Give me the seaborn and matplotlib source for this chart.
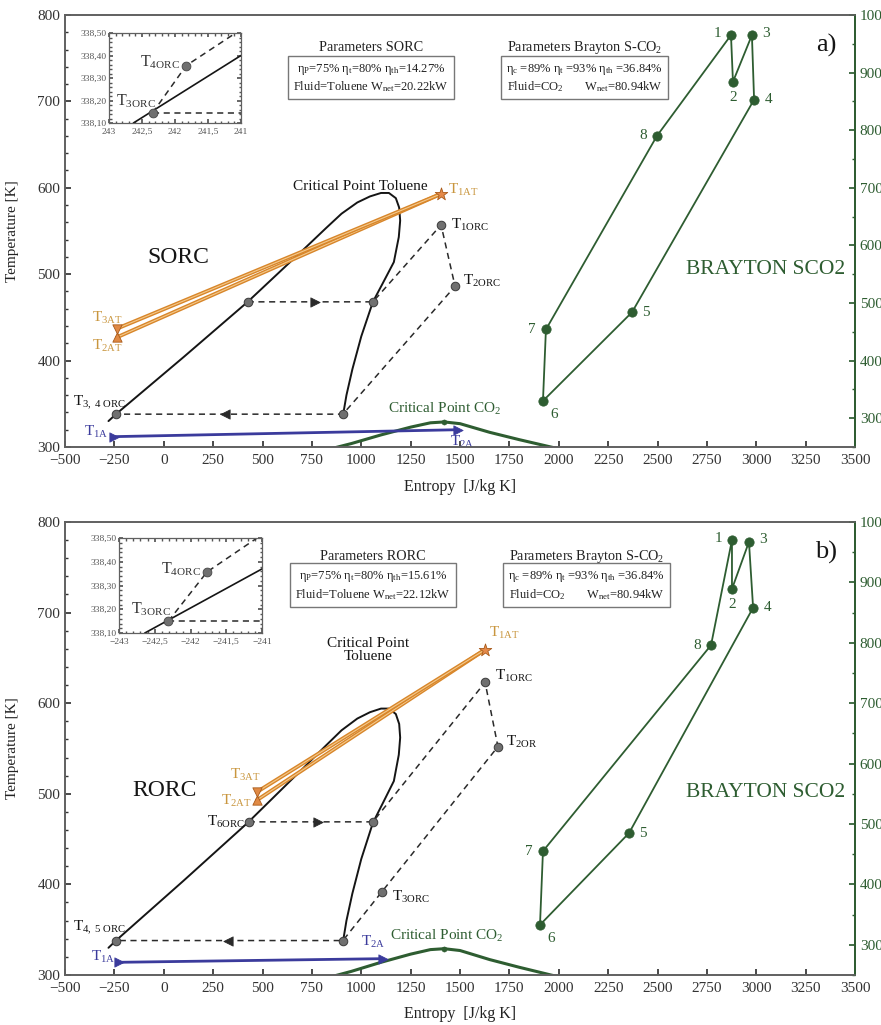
import matplotlib
matplotlib.use("Agg")
import matplotlib.pyplot as plt
from matplotlib.ticker import MultipleLocator
import seaborn as sns

# ---------------- data ----------------
x_ticks = [-500, -250, 0, 250, 500, 750, 1000, 1250, 1500, 1750, 2000,
           2250, 2500, 2750, 3000, 3250, 3500]
left_ticks = [300, 400, 500, 600, 700, 800]
right_ticks = [300, 400, 500, 600, 700, 800, 900, 1000]

# toluene saturation dome (entropy J/kg K, temperature K)
dome_s = [-280, -242, 100, 425, 705, 820, 900, 980, 1044, 1100, 1140, 1175,
          1192, 1197, 1190, 1165, 1110, 1059, 1000, 955, 925, 907]
dome_t = [330, 338, 404, 468, 528, 553, 570, 583, 590, 594, 594, 588,
          577, 562, 543, 514, 490, 468, 428, 390, 360, 336]

# CO2 saturation dome
co2_s = [830, 950, 1100, 1250, 1350, 1420, 1500, 1650, 1800, 1960, 2000]
co2_t = [297, 304, 314, 323, 328, 329, 327, 317, 308.5, 300, 298]
co2_crit_s = [1420]
co2_crit_t = [329]

# panel a) SORC
sorc_path_s = [425, 1059, 1404, 1475, 907, -242]
sorc_path_t = [468, 468, 557, 486, 338, 338]
sorc_pts_s = [-242, 425, 1059, 1404, 1475, 907]
sorc_pts_t = [338, 468, 468, 557, 486, 338]
sorc_arrow_s = [766, 310]
sorc_arrow_t = [468, 338]
sorc_hot_s = [1404, -237, -237]     # T1AT, T2AT, T3AT
sorc_hot_t = [593, 427, 437]
sorc_air_s = [-250, 1490]           # T1A, T2A
sorc_air_t = [312, 320]

# panel b) RORC
rorc_path_s = [430, 1059, 1627, 1692, 1105, 907, -242]
rorc_path_t = [469, 469, 623, 552, 392, 338, 338]
rorc_pts_s = [-242, 430, 1059, 1627, 1692, 1105, 907]
rorc_pts_t = [338, 469, 469, 623, 552, 392, 338]
rorc_arrow_s = [781, 325]
rorc_arrow_t = [469, 338]
rorc_hot_s = [1627, 472, 472]
rorc_hot_t = [659, 493, 502]
rorc_air_s = [-225, 1110]
rorc_air_t = [314, 318]

# Brayton S-CO2 states 1..8 (right axis)
bray_labels = ["1", "2", "3", "4", "5", "6", "7", "8"]
bray_a_s = [2872, 2882, 2978, 2989, 2371, 1920, 1935, 2497]
bray_a_t = [965, 884, 965, 853, 484, 330, 454, 790]
bray_b_s = [2877, 2877, 2963, 2984, 2356, 1905, 1920, 2771]
bray_b_t = [970, 889, 967, 858, 485, 333, 455, 796]

# insets (zoom around T3ORC / T4ORC)
ins_a_xticks = [243, 242.5, 242, 241.5, 241]
ins_a_xlabels = ["243", "242,5", "242", "241,5", "241"]
ins_a_solid_x = [242.63, 241.0]
ins_a_solid_y = [338.10, 338.40]
ins_a_dash_x = [242.34, 241.83, 241.08]
ins_a_dash_y = [338.145, 338.355, 338.50]
ins_a_h_x = [242.34, 241.0]
ins_a_h_y = [338.145, 338.145]

ins_b_xticks = [-243, -242.5, -242, -241.5, -241]
ins_b_xlabels = ["\u2212243", "\u2212242,5", "\u2212242", "\u2212241,5", "\u2212241"]
ins_b_solid_x = [-242.64, -241.0]
ins_b_solid_y = [338.10, 338.37]
ins_b_dash_x = [-242.31, -241.77, -241.07]
ins_b_dash_y = [338.15, 338.357, 338.50]
ins_b_h_x = [-242.31, -241.0]
ins_b_h_y = [338.15, 338.15]

ins_yticks = [338.10, 338.20, 338.30, 338.40, 338.50]
ins_ylabels = ["338,10", "338,20", "338,30", "338,40", "338,50"]

# ---------------- style ----------------
sns.set_theme(style="ticks")
plt.rcParams["font.family"] = ["Liberation Serif", "DejaVu Serif"]
plt.rcParams["mathtext.fontset"] = "custom"
plt.rcParams["mathtext.rm"] = "Liberation Serif"
plt.rcParams["mathtext.it"] = "Liberation Serif:italic"
plt.rcParams["mathtext.bf"] = "Liberation Serif:bold"

BLACK = "#151515"
DASH = "#2a2a2a"
ORANGE = "#d8862a"
ORANGE_IN = "#f4c98c"
GOLD = "#c9963e"
BLUE = "#3b3b9c"
GREEN = "#2e5d31"
GRAY = "#707070"
FRAME = "#606060"


def path(ax, xs, ys, **kw):
    sns.lineplot(x=xs, y=ys, sort=False, estimator=None, ax=ax, **kw)


def dots(ax, xs, ys, **kw):
    sns.scatterplot(x=xs, y=ys, ax=ax, legend=False, **kw)


def tag(ax, text, xy, off, ha="left", va="center", color=BLACK, size=11):
    ax.annotate(text, xy=xy, xytext=off, textcoords="offset pixels",
                ha=ha, va=va, color=color, fontsize=size)


def T(sub):
    return r"T$_{\mathrm{" + sub + "}}$"


def frame(ax):
    ax.set_xlim(-500, 3500)
    ax.set_ylim(300, 800)
    ax.set_xticks(x_ticks)
    ax.set_yticks(left_ticks)
    ax.yaxis.set_minor_locator(MultipleLocator(20))
    ax.tick_params(axis="both", which="both", direction="in", labelsize=11,
                   colors="#333333", length=4)
    ax.tick_params(axis="y", which="minor", length=2.5)
    ax.tick_params(axis="x", pad=5)
    for sp in ax.spines.values():
        sp.set_color(FRAME)
        sp.set_linewidth(1.2)
    ax.set_ylabel("Temperature [K]", fontsize=11, color="#222222")
    ax.yaxis.set_label_coords(-0.058, 0.5)


def right_axis(ax):
    ax2 = ax.twinx()
    ax2.set_ylim(250, 1000)
    ax2.set_yticks(right_ticks)
    ax2.yaxis.set_minor_locator(MultipleLocator(50))
    ax2.tick_params(axis="y", which="both", direction="in", labelsize=11,
                    colors=GREEN, length=4)
    ax2.tick_params(axis="y", which="minor", length=2.5)
    for name, sp in ax2.spines.items():
        sp.set_color(FRAME)
        sp.set_linewidth(1.2)
    ax2.spines["right"].set_color(GREEN)
    ax2.spines["right"].set_linewidth(1.4)
    return ax2


def brayton(ax2, xs, ys, offs):
    cyc_s = xs + [xs[0]]
    cyc_t = ys + [ys[0]]
    path(ax2, cyc_s, cyc_t, color=GREEN, lw=1.3)
    dots(ax2, xs, ys, color=GREEN, s=45, edgecolor=GREEN, zorder=5)
    for lab, px, py, (o, ha) in zip(bray_labels, xs, ys, offs):
        tag(ax2, lab, (px, py), o, ha=ha, color=GREEN, size=11)


def hot_air(ax, hs, ht):
    for k in (1, 2):
        path(ax, [hs[0], hs[k]], [ht[0], ht[k]], color=ORANGE, lw=2.8)
        path(ax, [hs[0], hs[k]], [ht[0], ht[k]], color=ORANGE_IN, lw=0.8)
    dots(ax, [hs[0]], [ht[0]], marker="*", s=90, color="#e58a4a",
         edgecolor="#a85a1a", linewidth=0.6, zorder=6)
    dots(ax, [hs[1]], [ht[1]], marker="^", s=45, color="#e08a45",
         edgecolor="#a85a1a", linewidth=0.6, zorder=6)
    dots(ax, [hs[2]], [ht[2]], marker="v", s=45, color="#e08a45",
         edgecolor="#a85a1a", linewidth=0.6, zorder=6)


def cold_air(ax, cs, ct):
    path(ax, cs, ct, color=BLUE, lw=2.0)
    dots(ax, cs, ct, marker=">", s=45, color=BLUE, edgecolor=BLUE, zorder=6)


def orc(ax, ps, pt, qs, qt, arr_s, arr_t):
    path(ax, ps, pt, color=DASH, lw=1.1, linestyle=(0, (4, 3)))
    dots(ax, qs, qt, s=38, color=GRAY, edgecolor="#3a3a3a", linewidth=0.7,
         zorder=6)
    dots(ax, [arr_s[0]], [arr_t[0]], marker=">", s=45, color=DASH,
         edgecolor=DASH, zorder=6)
    dots(ax, [arr_s[1]], [arr_t[1]], marker="<", s=45, color=DASH,
         edgecolor=DASH, zorder=6)


def domes(ax):
    path(ax, dome_s, dome_t, color=BLACK, lw=1.4)
    path(ax, co2_s, co2_t, color=GREEN, lw=2.2)
    dots(ax, co2_crit_s, co2_crit_t, s=14, color=GREEN, edgecolor=GREEN,
         zorder=6)


def params(ax, title, x1, line1, x2, line2, y_title, y_box):
    ax.text(x1, y_title, title, ha="center", va="center", fontsize=10.3,
            color="#222222")
    ax.text(x1, y_box, line1, ha="center", va="center", fontsize=9,
            color="#222222", linespacing=1.25,
            bbox=dict(boxstyle="square,pad=0.4", fc="white", ec="#777777",
                      lw=1.0))
    ax.text(x2, y_title, "Parameters Brayton S-CO$_2$", ha="center",
            va="center", fontsize=10.3, color="#222222")
    ax.text(x2, y_box, line2, ha="center", va="center", fontsize=9,
            color="#222222", linespacing=1.25,
            bbox=dict(boxstyle="square,pad=0.4", fc="white", ec="#777777",
                      lw=1.0))


def inset(fig, rect, xt, xl, sx, sy, dx, dy, hx, hy, invert, lab_offs):
    ia = fig.add_axes(rect)
    path(ia, sx, sy, color=BLACK, lw=1.2)
    path(ia, dx, dy, color=DASH, lw=1.1, linestyle=(0, (4, 3)))
    path(ia, hx, hy, color=DASH, lw=1.1, linestyle=(0, (4, 3)))
    dots(ia, [dx[0], dx[1]], [dy[0], dy[1]], s=40, color=GRAY,
         edgecolor="#444444", linewidth=0.6, zorder=6)
    if invert:
        ia.set_xlim(243, 241)
    else:
        ia.set_xlim(-243, -241)
    ia.set_ylim(338.10, 338.50)
    ia.set_xticks(xt)
    ia.set_xticklabels(xl)
    ia.set_yticks(ins_yticks)
    ia.set_yticklabels(ins_ylabels)
    ia.xaxis.set_minor_locator(MultipleLocator(0.1))
    ia.yaxis.set_minor_locator(MultipleLocator(0.02))
    ia.tick_params(axis="both", which="both", direction="in", labelsize=6.8,
                   colors="#555555", length=3, pad=2, top=True, right=True)
    ia.tick_params(axis="x", pad=3.5)
    ia.tick_params(which="minor", length=1.8)
    for sp in ia.spines.values():
        sp.set_color(FRAME)
        sp.set_linewidth(0.9)
    ia.set_xlabel("")
    ia.set_ylabel("")
    tag(ia, T("4ORC"), (dx[1], dy[1]), lab_offs[0], ha="right", size=11.5,
        color="#333333")
    tag(ia, T("3ORC"), (dx[0], dy[0]), lab_offs[1], ha="right", size=11.5,
        color="#333333")
    return ia


fig = plt.figure(figsize=(8.81, 10.25), dpi=100)

# ================= panel a) =================
ax = fig.add_axes([0.0738, 0.5639, 0.8967, 0.4215])
domes(ax)
hot_air(ax, sorc_hot_s, sorc_hot_t)
cold_air(ax, sorc_air_s, sorc_air_t)
orc(ax, sorc_path_s, sorc_path_t, sorc_pts_s, sorc_pts_t,
    sorc_arrow_s, sorc_arrow_t)
frame(ax)

tag(ax, T("1AT"), (sorc_hot_s[0], sorc_hot_t[0]), (7, 4), color=GOLD)
tag(ax, T("3AT"), (sorc_hot_s[2], sorc_hot_t[2]), (-10, 11), ha="center", color=GOLD)
tag(ax, T("2AT"), (sorc_hot_s[1], sorc_hot_t[1]), (-10, -9), ha="center", color=GOLD)
tag(ax, T("1ORC"), (sorc_pts_s[3], sorc_pts_t[3]), (10, 0))
tag(ax, T("2ORC"), (sorc_pts_s[4], sorc_pts_t[4]), (8, 5))
tag(ax, T(r"3,\ 4\ ORC"), (sorc_pts_s[0], sorc_pts_t[0]), (-43, 11))
tag(ax, T("1A"), (sorc_air_s[0], sorc_air_t[0]), (-6, 5), ha="right", color=BLUE)
tag(ax, T("2A"), (sorc_air_s[1], sorc_air_t[1]), (4, -12), ha="center", color=BLUE)
ax.text(994, 601, "Critical Point Toluene", ha="center", va="center",
        fontsize=11, color=BLACK)
ax.text(1424, 344, "Critical Point CO$_2$", ha="center", va="center",
        fontsize=11, color=GREEN)
ax.text(72, 519, "SORC", ha="center", va="center", fontsize=17, color=BLACK)
ax.text(3045, 505, "BRAYTON SCO2", ha="center", va="center", fontsize=15.5,
        color=GREEN)
ax.text(3353, 765, "a)", ha="center", va="center", fontsize=19, color=BLACK)
params(ax, "Parameters SORC", 1050,
       "\u03b7$_{\\mathrm{P}}$=75% \u03b7$_{\\mathrm{t}}$=80% \u03b7$_{\\mathrm{th}}$=14.27%\n"
       "Fluid=Toluene W$_{\\mathrm{net}}$=20.22kW",
       2130,
       "\u03b7$_{\\mathrm{c}}$ =89% \u03b7$_{\\mathrm{t}}$ =93% \u03b7$_{\\mathrm{th}}$ =36.84%\n"
       "Fluid=CO$_2$       W$_{\\mathrm{net}}$=80.94kW",
       762, 727)

ax2 = right_axis(ax)
brayton(ax2, bray_a_s, bray_a_t,
        [((-10, 2), "right"), ((0, -16), "center"), ((10, 2), "left"),
         ((11, 0), "left"), ((10, 0), "left"), ((7, -14), "left"),
         ((-10, 0), "right"), ((-10, 0), "right")])
ax2.set_xlim(-500, 3500)
ax2.set_ylabel("")
ax.set_xlabel("Entropy  [J/kg K]", fontsize=11.5, color="#222222", labelpad=9)

inset(fig, [0.1237, 0.880, 0.1498, 0.0878], ins_a_xticks, ins_a_xlabels,
      ins_a_solid_x, ins_a_solid_y, ins_a_dash_x, ins_a_dash_y,
      ins_a_h_x, ins_a_h_y, True, [(-6, 3), (3, 12)])

# ================= panel b) =================
bx = fig.add_axes([0.0738, 0.0488, 0.8967, 0.4420])
domes(bx)
hot_air(bx, rorc_hot_s, rorc_hot_t)
cold_air(bx, rorc_air_s, rorc_air_t)
orc(bx, rorc_path_s, rorc_path_t, rorc_pts_s, rorc_pts_t,
    rorc_arrow_s, rorc_arrow_t)
frame(bx)

tag(bx, T("1AT"), (rorc_hot_s[0], rorc_hot_t[0]), (4, 17), color=GOLD)
tag(bx, T("3AT"), (rorc_hot_s[2], rorc_hot_t[2]), (-12, 17), ha="center", color=GOLD)
tag(bx, T("2AT"), (rorc_hot_s[1], rorc_hot_t[1]), (-5, -1), ha="right", color=GOLD)
tag(bx, T("1ORC"), (rorc_pts_s[3], rorc_pts_t[3]), (10, 6))
tag(bx, T("2OR"), (rorc_pts_s[4], rorc_pts_t[4]), (8, 5))
tag(bx, T("3ORC"), (rorc_pts_s[5], rorc_pts_t[5]), (10, -5))
tag(bx, T("6ORC"), (rorc_pts_s[1], rorc_pts_t[1]), (-4, 0), ha="right")
tag(bx, T(r"4,\ 5\ ORC"), (rorc_pts_s[0], rorc_pts_t[0]), (-43, 13))
tag(bx, T("1A"), (rorc_air_s[0], rorc_air_t[0]), (-4, 5), ha="right", color=BLUE)
tag(bx, T("2A"), (rorc_air_s[1], rorc_air_t[1]), (-10, 17), ha="center", color=BLUE)
bx.text(1034, 659, "Critical Point\nToluene", ha="center", va="center",
        fontsize=11, color=BLACK, linespacing=1.0)
bx.text(1434, 343, "Critical Point CO$_2$", ha="center", va="center",
        fontsize=11, color=GREEN)
bx.text(6, 504, "RORC", ha="center", va="center", fontsize=17, color=BLACK)
bx.text(3045, 501, "BRAYTON SCO2", ha="center", va="center", fontsize=15.5,
        color=GREEN)
bx.text(3353, 766, "b)", ha="center", va="center", fontsize=19, color=BLACK)
params(bx, "Parameters RORC", 1060,
       "\u03b7$_{\\mathrm{P}}$=75% \u03b7$_{\\mathrm{t}}$=80% \u03b7$_{\\mathrm{th}}$=15.61%\n"
       "Fluid=Toluene W$_{\\mathrm{net}}$=22.12kW",
       2140,
       "\u03b7$_{\\mathrm{c}}$ =89% \u03b7$_{\\mathrm{t}}$ =93% \u03b7$_{\\mathrm{th}}$ =36.84%\n"
       "Fluid=CO$_2$       W$_{\\mathrm{net}}$=80.94kW",
       762, 730)

bx2 = right_axis(bx)
brayton(bx2, bray_b_s, bray_b_t,
        [((-10, 2), "right"), ((0, -16), "center"), ((10, 2), "left"),
         ((11, 0), "left"), ((10, 0), "left"), ((7, -14), "left"),
         ((-10, 0), "right"), ((-10, 0), "right")])
bx2.set_xlim(-500, 3500)
bx2.set_ylabel("")
bx.set_xlabel("Entropy  [J/kg K]", fontsize=11.5, color="#222222", labelpad=8)

inset(fig, [0.1351, 0.3824, 0.1623, 0.0927], ins_b_xticks, ins_b_xlabels,
      ins_b_solid_x, ins_b_solid_y, ins_b_dash_x, ins_b_dash_y,
      ins_b_h_x, ins_b_h_y, False, [(-6, 3), (3, 12)])

fig.savefig("out.png", dpi=100, facecolor="white")
